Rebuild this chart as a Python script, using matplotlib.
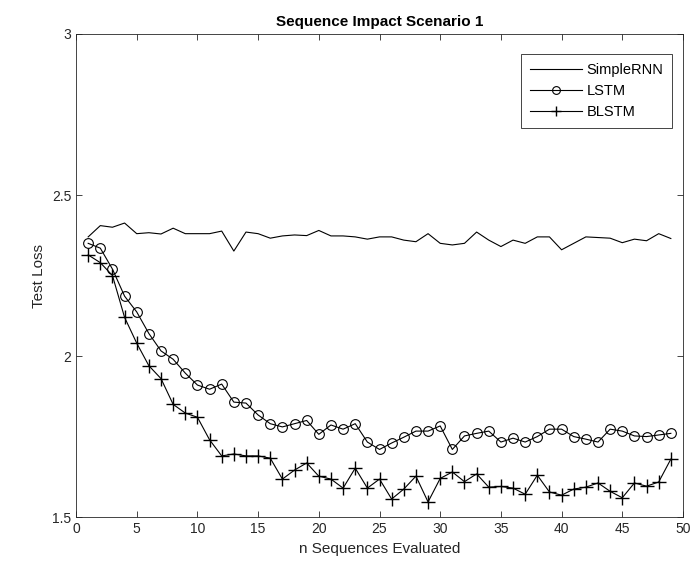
import matplotlib
matplotlib.use("Agg")
import matplotlib.pyplot as plt
import numpy as np

plt.rcParams["font.family"] = ["Liberation Sans", "DejaVu Sans"]

n_seq = np.arange(1, 50)

simple_rnn = [2.37, 2.405, 2.40, 2.413, 2.38, 2.383, 2.379, 2.397, 2.38, 2.38,
              2.38, 2.388, 2.326, 2.385, 2.38, 2.366, 2.373, 2.376, 2.374, 2.39,
              2.373, 2.373, 2.37, 2.363, 2.37, 2.37, 2.36, 2.355, 2.38, 2.35,
              2.345, 2.35, 2.385, 2.36, 2.34, 2.36, 2.35, 2.37, 2.37, 2.33,
              2.35, 2.37, 2.368, 2.366, 2.352, 2.363, 2.358, 2.38, 2.365]

lstm = [2.35, 2.335, 2.27, 2.186, 2.137, 2.07, 2.016, 1.99, 1.947, 1.91,
        1.897, 1.913, 1.857, 1.854, 1.817, 1.79, 1.78, 1.79, 1.80, 1.757,
        1.786, 1.773, 1.79, 1.733, 1.71, 1.73, 1.748, 1.767, 1.767, 1.783,
        1.71, 1.752, 1.76, 1.767, 1.733, 1.745, 1.733, 1.75, 1.773, 1.773,
        1.75, 1.742, 1.733, 1.773, 1.767, 1.752, 1.75, 1.755, 1.76]

blstm = [2.314, 2.29, 2.25, 2.12, 2.04, 1.97, 1.93, 1.85, 1.823, 1.81,
         1.74, 1.69, 1.696, 1.69, 1.69, 1.683, 1.618, 1.646, 1.668, 1.627,
         1.618, 1.59, 1.652, 1.59, 1.618, 1.556, 1.587, 1.627, 1.547, 1.62,
         1.64, 1.61, 1.634, 1.593, 1.595, 1.59, 1.571, 1.63, 1.578, 1.568,
         1.587, 1.593, 1.606, 1.58, 1.56, 1.606, 1.596, 1.609, 1.68]

axis_col = "#262626"

fig = plt.figure(figsize=(6.95, 5.81), dpi=100)
ax = fig.add_axes([0.1094, 0.110, 0.8733, 0.8315])

ax.plot(n_seq, simple_rnn, color="black", lw=0.8, label="SimpleRNN")
ax.plot(n_seq, lstm, color="black", lw=0.8, marker="o", ms=7,
        mfc="none", mew=0.8, label="LSTM")
ax.plot(n_seq, blstm, color="black", lw=0.8, marker="+", ms=9.5,
        mew=1.0, label="BLSTM")

ax.set_xlim(0, 50)
ax.set_ylim(1.5, 3)
ax.set_xticks(np.arange(0, 51, 5))
ax.set_yticks([1.5, 2, 2.5, 3])
ax.set_yticklabels(["1.5", "2", "2.5", "3"])
ax.tick_params(direction="in", top=True, right=True, length=4,
               labelsize=10, colors=axis_col, width=0.6)
for s in ax.spines.values():
    s.set_color(axis_col)
    s.set_linewidth(0.6)

ax.set_xlabel("n Sequences Evaluated", fontsize=11, color=axis_col)
ax.set_ylabel("Test Loss", fontsize=11, color=axis_col)
ax.set_title("Sequence Impact Scenario 1", fontsize=11, fontweight="bold", pad=6)

leg = ax.legend(loc="upper right", bbox_to_anchor=(0.982, 0.9586), fontsize=10.5,
                handlelength=3.6, handletextpad=0.3, borderpad=0.6,
                labelspacing=0.5, borderaxespad=0, fancybox=False,
                framealpha=1, markerscale=0.8)
leg.get_frame().set_edgecolor(axis_col)
leg.get_frame().set_linewidth(0.6)

fig.savefig("out.png", dpi=100)
